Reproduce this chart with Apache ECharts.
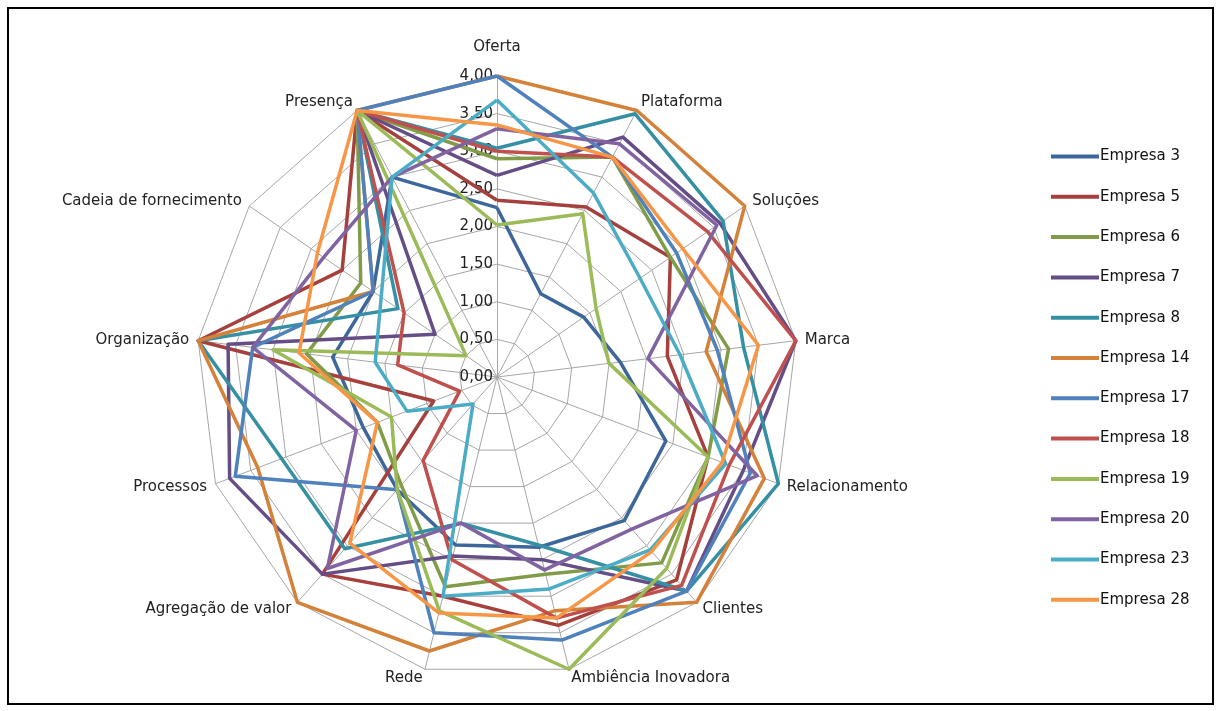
<!DOCTYPE html>
<html>
<head>
<meta charset="utf-8">
<script src="https://cdn.jsdelivr.net/npm/echarts@6/dist/echarts.min.js"></script>
<style>
  html, body { margin: 0; padding: 0; background: #fff; }
  #chart { width: 1222px; height: 711px; }
  #frame { position: absolute; left: 7px; top: 7px; width: 1203px; height: 694px; border: 2px solid #000; pointer-events: none; }
</style>
</head>
<body>
<div id="chart"></div>
<div id="frame"></div>
<script>
// axes listed clockwise from the top
const axisNames = ['Oferta', 'Plataforma', 'Soluções', 'Marca', 'Relacionamento', 'Clientes',
  'Ambiência Inovadora', 'Rede', 'Agregação de valor', 'Processos', 'Organização',
  'Cadeia de fornecimento', 'Presença'];

const companies = ['Empresa 3', 'Empresa 5', 'Empresa 6', 'Empresa 7', 'Empresa 8', 'Empresa 14',
  'Empresa 17', 'Empresa 18', 'Empresa 19', 'Empresa 20', 'Empresa 23', 'Empresa 28'];

const colors = ['#3d679a', '#a5403c', '#819c48', '#654d86', '#3590a4', '#d4813a',
  '#4f81bd', '#c0504d', '#9bbb59', '#8064a2', '#4bacc6', '#f79646'];

const empresa3 = [2.25, 1.25, 1.4, 1.65, 2.4, 2.55, 2.33, 2.3, 2.0, 1.9, 2.2, 2.0, 3.0];
const empresa5 = [2.35, 2.55, 2.8, 2.28, 3.0, 3.6, 3.4, 3.0, 3.5, 0.9, 4.0, 2.5, 4.0];
const empresa6 = [2.9, 3.3, 2.8, 3.1, 3.0, 3.3, 2.7, 2.87, 1.92, 1.7, 2.55, 2.2, 4.0];
const empresa7 = [2.68, 3.6, 3.6, 4.0, 3.5, 3.8, 2.5, 2.45, 3.5, 3.8, 3.6, 1.0, 4.0];
const empresa8 = [3.04, 3.95, 3.65, 3.3, 4.0, 3.8, 2.3, 2.0, 3.05, 3.06, 4.0, 1.6, 4.0];
const empresa14 = [4.0, 4.0, 4.0, 2.8, 3.8, 4.0, 3.2, 3.75, 4.0, 3.4, 4.0, 2.0, 4.0];
const empresa17 = [4.0, 3.3, 2.9, 2.95, 3.6, 3.8, 3.6, 3.5, 2.0, 3.72, 3.27, 2.0, 4.0];
const empresa18 = [3.0, 3.3, 3.4, 4.0, 3.3, 3.7, 3.3, 2.5, 1.48, 0.53, 1.33, 1.5, 4.0];
const empresa19 = [2.02, 2.45, 1.6, 1.5, 3.0, 3.4, 4.0, 3.2, 2.0, 1.5, 3.0, 0.5, 4.0];
const empresa20 = [3.3, 3.5, 3.55, 2.02, 3.7, 2.7, 2.64, 2.0, 3.4, 2.0, 3.27, 2.8, 3.0];
const empresa23 = [3.68, 2.76, 2.31, 2.45, 3.25, 3.07, 2.9, 3.0, 0.48, 1.28, 1.63, 1.87, 3.0];
const empresa28 = [3.35, 3.3, 3.0, 3.5, 3.2, 3.1, 3.3, 3.23, 2.95, 1.7, 2.65, 2.9, 4.0];

const seriesValues = [empresa3, empresa5, empresa6, empresa7, empresa8, empresa14,
  empresa17, empresa18, empresa19, empresa20, empresa23, empresa28];

// echarts walks the indicators counter-clockwise, so feed them in reverse after the first
const order = [0].concat(axisNames.map((_, i) => axisNames.length - 1 - i).slice(0, -1));

const font = 'DejaVu Sans';
const chart = echarts.init(document.getElementById('chart'));

chart.setOption({
  color: colors,
  animation: false,
  legend: {
    orient: 'vertical',
    left: 1046,
    top: 144,
    itemWidth: 48,
    itemHeight: 4,
    itemGap: 25.3,
    icon: 'rect',
    textStyle: { color: '#111', fontSize: 15, fontFamily: font, padding: [0, 0, 0, -4] },
    data: companies
  },
  radar: {
    center: [497, 377],
    radius: 301,
    startAngle: 90,
    splitNumber: 8,
    shape: 'polygon',
    axisName: {
      color: '#222',
      fontSize: 15,
      lineHeight: 13,
      fontFamily: font,
      formatter: (name) => (name === 'Oferta' ? name + '\n ' : name)
    },
    nameGap: 9,
    axisLine: { lineStyle: { color: '#a6a6a6', width: 1 } },
    splitLine: { lineStyle: { color: '#a6a6a6', width: 1 } },
    splitArea: { show: false },
    axisLabel: { show: false },
    indicator: order.map((i) => ({
      name: axisNames[i],
      min: 0,
      max: 4,
      axisLabel: i === 0 ? {
        show: true,
        color: '#222',
        fontSize: 15,
        fontFamily: font,
        margin: 4,
        formatter: (v) => v.toFixed(2).replace('.', ',')
      } : { show: false }
    }))
  },
  series: [{
    type: 'radar',
    symbol: 'none',
    lineStyle: { width: 3.5 },
    data: companies.map((name, s) => ({
      name,
      value: order.map((i) => seriesValues[s][i]),
      lineStyle: { width: 3.5, color: colors[s] },
      itemStyle: { color: colors[s] }
    }))
  }]
});
</script>
</body>
</html>
